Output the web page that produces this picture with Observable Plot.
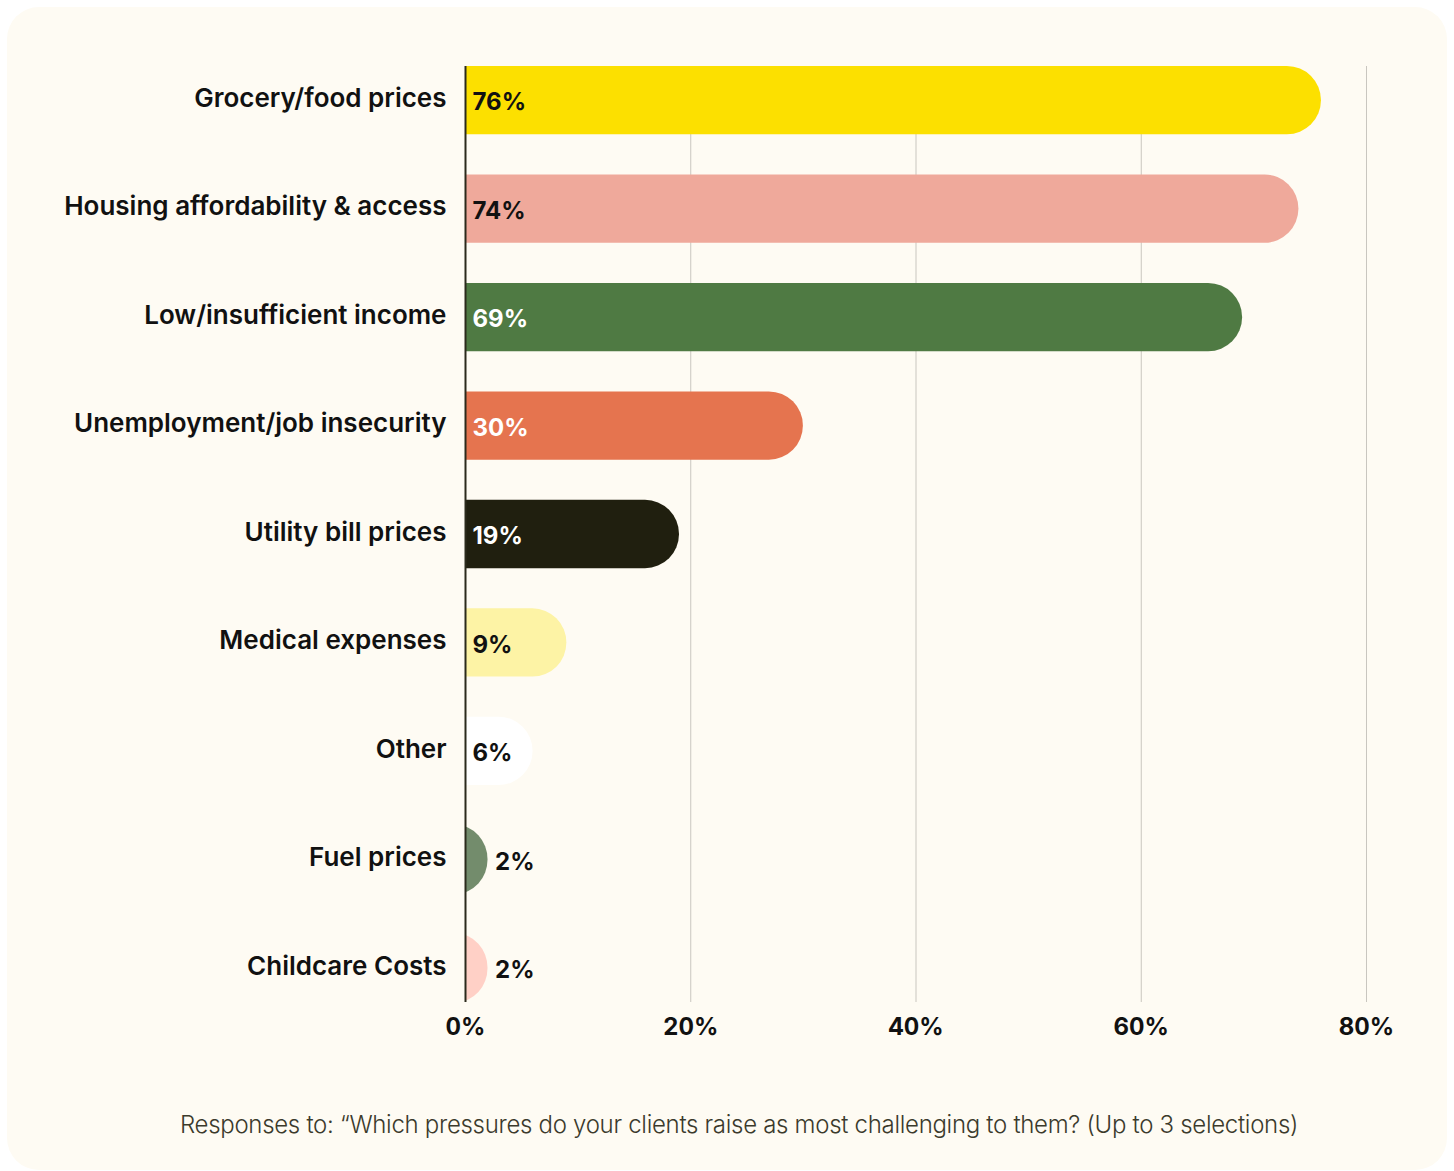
<!DOCTYPE html>
<html>
<head>
<meta charset="utf-8">
<script src="https://cdn.jsdelivr.net/npm/d3@7"></script>
<script src="https://cdn.jsdelivr.net/npm/@observablehq/plot@0.6"></script>
<style>
  html, body { margin: 0; padding: 0; background: #ffffff; }
  body { width: 1454px; height: 1171px; position: relative; overflow: hidden; font-family: Inter, "Noto Sans", sans-serif; }
  #card { position: absolute; left: 7px; top: 7px; width: 1440px; height: 1163px; border-radius: 32px; background: #FEFBF3; }
  #chart { position: absolute; left: 0; top: 0; }
  #caption { position: absolute; left: 0; width: 1464px; top: 1103px; text-align: center; font-size: 24px; font-weight: 300; color: #3b3a2c; line-height: 30px; letter-spacing: -0.3px; }
</style>
</head>
<body>
<div id="card">
  <div id="chart"></div>
  <div id="caption">Responses to: “Which pressures do your clients raise as most challenging to them? (Up to 3 selections)</div>
</div>
<script>
const categories = [
  "Grocery/food prices",
  "Housing affordability & access",
  "Low/insufficient income",
  "Unemployment/job insecurity",
  "Utility bill prices",
  "Medical expenses",
  "Other",
  "Fuel prices",
  "Childcare Costs"
];
const values = [76, 74, 69, 30, 19, 9, 6, 2, 2];
const xTicks = [0, 20, 40, 60, 80];

const barColors = ["#FCE000", "#EFA99B", "#4F7A43", "#E5744F", "#201F0F", "#FDF3A5", "#FFFFFF", "#738C6C", "#FFD0C6"];
const labelColors = ["#111111", "#111111", "#FFFFFF", "#FFFFFF", "#FFFFFF", "#111111", "#111111", "#111111", "#111111"];

const data = categories.map((c, i) => ({category: c, value: values[i], color: barColors[i], label: labelColors[i]}));
const outside = d => d.value < 5;

const chart = Plot.plot({
  width: 1440,
  height: 1050,
  marginLeft: 458,
  marginRight: 81,
  marginTop: 59,
  marginBottom: 55,
  style: {background: "transparent", fontFamily: "Inter, 'Noto Sans', sans-serif", color: "#111"},
  x: {domain: [0, 80], ticks: xTicks},
  y: {domain: categories, paddingInner: 0.37, paddingOuter: 0, round: false},
  marks: [
    Plot.gridX(xTicks, {stroke: "#c9c6bf", strokeOpacity: 1, strokeWidth: 1}),
    Plot.barX(data, {y: "category", x1: 0, x2: "value", fill: "color", rx: 34, insetLeft: -40, clip: true}),
    Plot.ruleX([0], {stroke: "#2b2a1c", strokeWidth: 2}),
    Plot.text(data, {
      y: "category",
      x: d => outside(d) ? d.value : 0,
      text: d => d.value + "%",
      textAnchor: "start",
      dx: 7,
      dy: 2,
      fill: "label",
      fontSize: 24,
      fontWeight: 700
    }),
    Plot.axisY({tickSize: 0, tickPadding: 19, fontSize: 26, fontWeight: 600, label: null, fill: "#111", dy: -2}),
    Plot.axisX(xTicks, {tickSize: 0, tickPadding: 15, fontSize: 24, fontWeight: 700, label: null, tickFormat: d => d + "%", fill: "#111"})
  ]
});
document.getElementById("chart").appendChild(chart);
</script>
</body>
</html>
